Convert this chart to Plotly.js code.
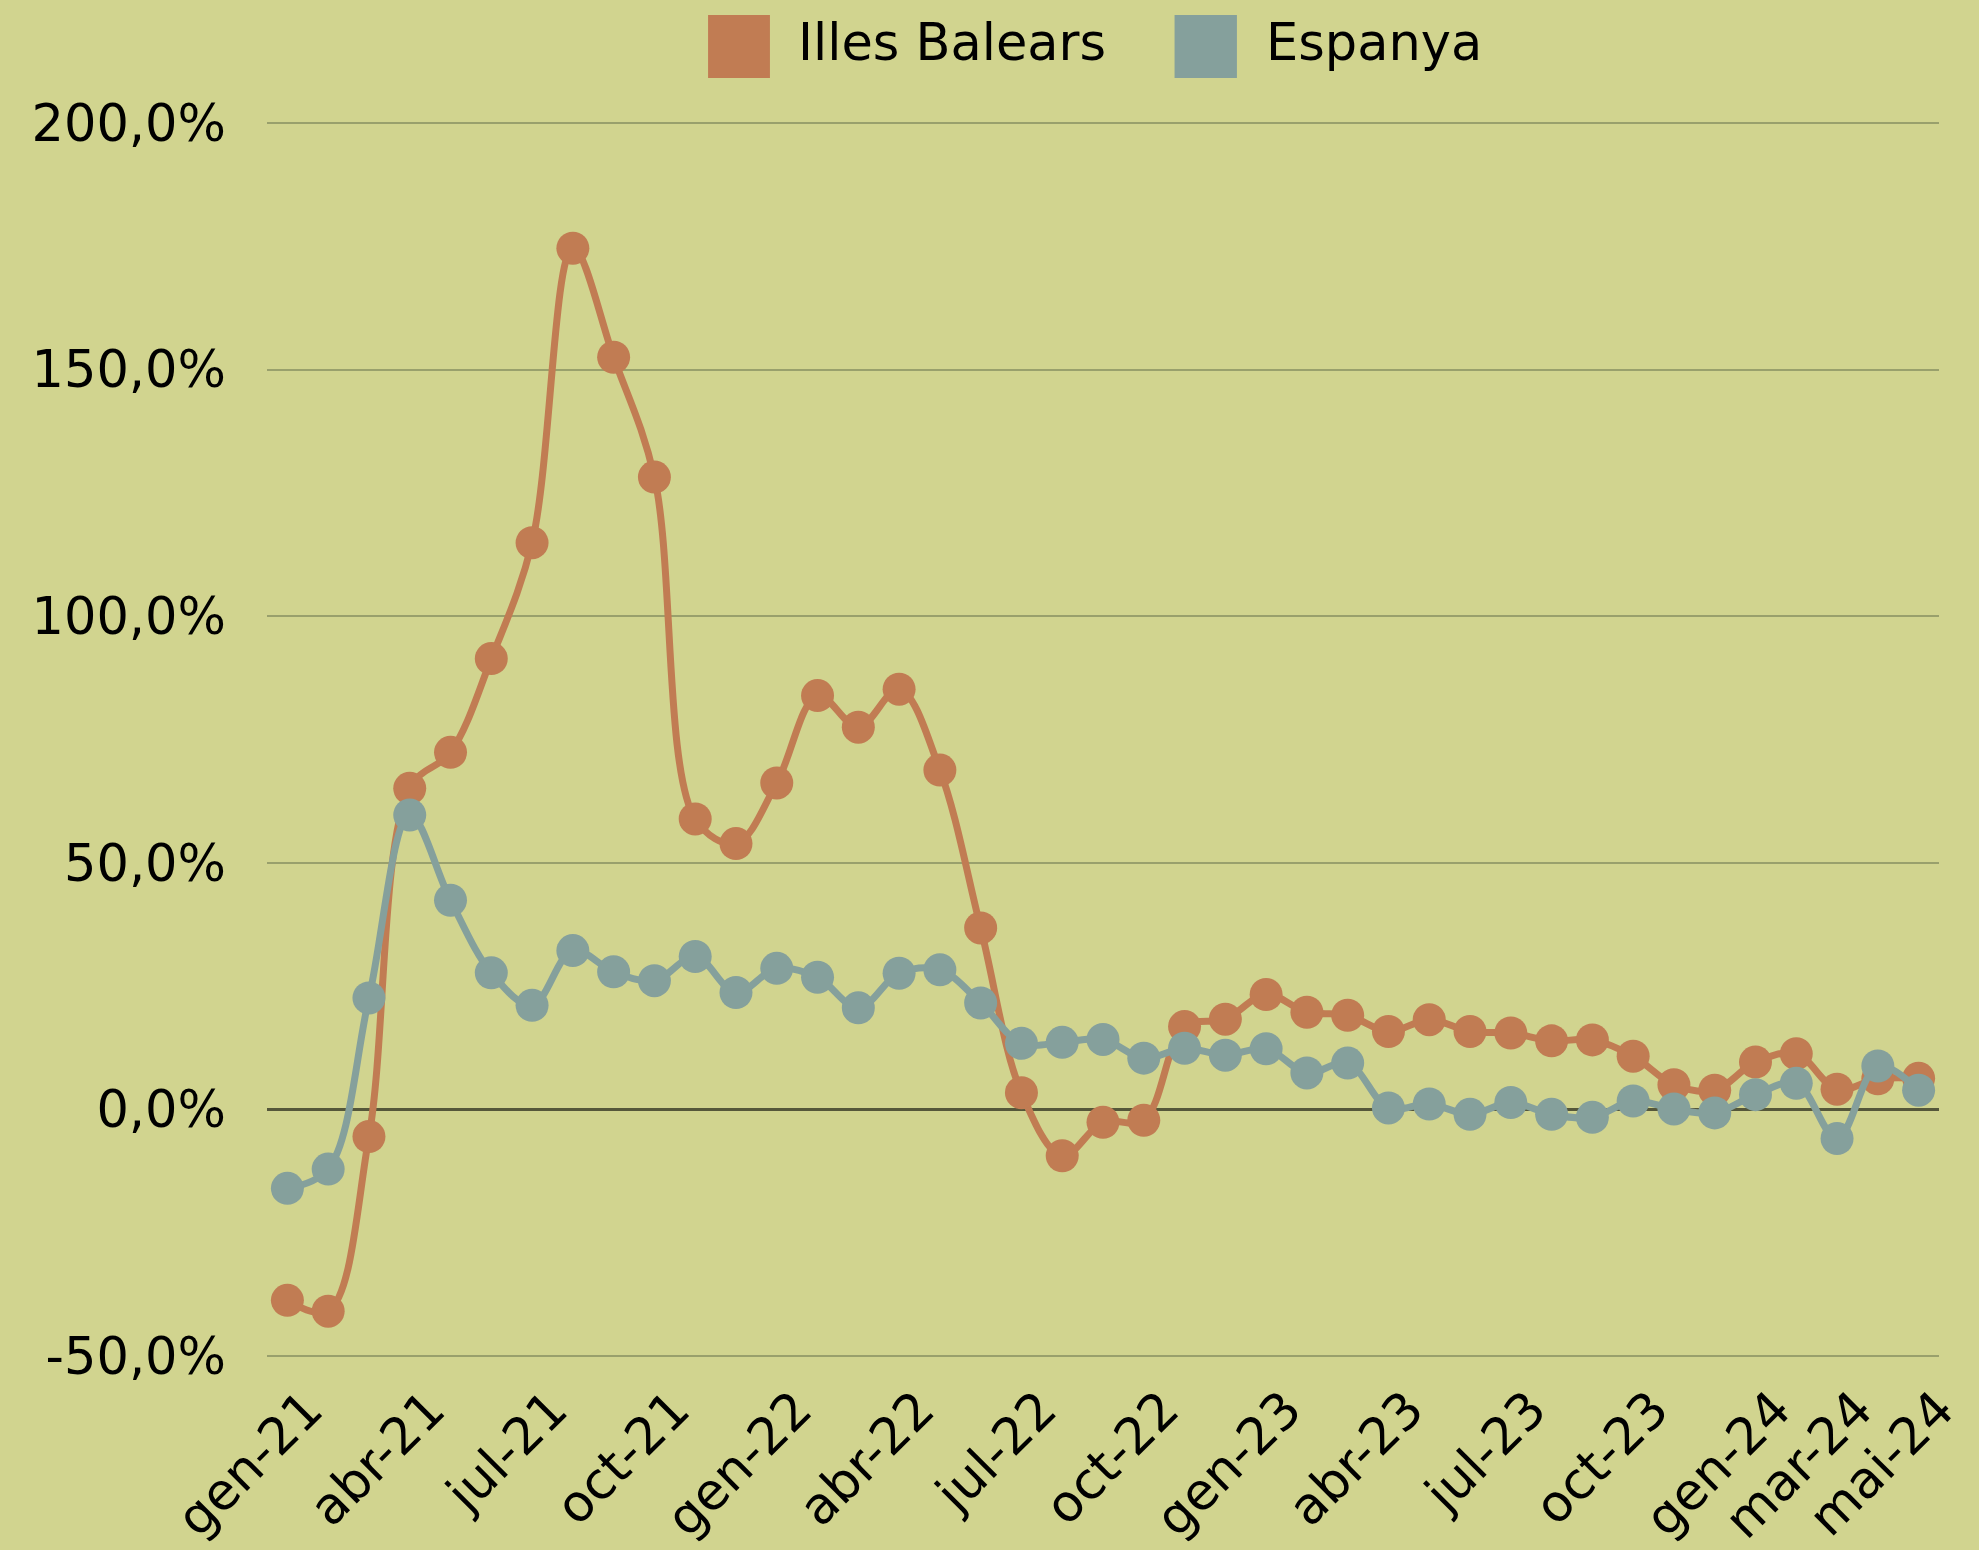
<!DOCTYPE html>
<html>
<head>
<meta charset="utf-8">
<script src="https://cdn.plot.ly/plotly-3.0.1.min.js"></script>
<style>
  html, body { margin: 0; padding: 0; background: #D1D48F; }
  #chart { width: 1979px; height: 1550px; }
</style>
</head>
<body>
<div id="chart"></div>
<script>
// ---- data ----
const months = [
  'gen-21','feb-21','mar-21','abr-21','mai-21','jun-21','jul-21','ago-21','set-21','oct-21','nov-21','des-21',
  'gen-22','feb-22','mar-22','abr-22','mai-22','jun-22','jul-22','ago-22','set-22','oct-22','nov-22','des-22',
  'gen-23','feb-23','mar-23','abr-23','mai-23','jun-23','jul-23','ago-23','set-23','oct-23','nov-23','des-23',
  'gen-24','feb-24','mar-24','abr-24','mai-24'
];
const tickLabels = ['gen-21','abr-21','jul-21','oct-21','gen-22','abr-22','jul-22','oct-22',
  'gen-23','abr-23','jul-23','oct-23','gen-24','mar-24','mai-24'];
const seriesNames = ['Illes Balears', 'Espanya'];
const illesBalears = [
  -38.7, -40.9, -5.5, 65.1, 72.4, 91.4, 114.9, 174.6, 152.5, 128.2, 58.9, 53.9,
  66.2, 83.9, 77.5, 85.2, 68.8, 36.8, 3.4, -9.4, -2.6, -2.2, 16.8, 18.3,
  23.3, 19.7, 19.1, 15.8, 18.2, 15.8, 15.5, 13.9, 14.1, 10.8, 5.0, 3.9,
  9.6, 11.3, 4.1, 6.2, 6.3
];
const espanya = [
  -16.0, -12.1, 22.6, 59.7, 42.4, 27.7, 21.1, 32.2, 27.9, 26.1, 31.0, 23.7,
  28.6, 26.8, 20.6, 27.6, 28.3, 21.6, 13.4, 13.6, 14.2, 10.4, 12.4, 11.0,
  12.3, 7.4, 9.4, 0.3, 1.1, -1.0, 1.4, -1.0, -1.6, 1.7, 0.1, -0.7,
  3.0, 5.3, -5.9, 8.8, 3.9
];
const yTicks = [-50, 0, 50, 100, 150, 200];
const yTickText = yTicks.map(v => v.toFixed(1).replace('.', ',') + '%');

// ---- style ----
const colors = ['#C17C53', '#85A09C'];
const bg = '#D1D48F';
const fontFamily = 'DejaVu Sans, Open Sans, sans-serif';

const series = [illesBalears, espanya];
const traces = series.map((vals, i) => ({
  type: 'scatter',
  mode: 'lines+markers',
  name: seriesNames[i],
  x: months,
  y: vals,
  line: { color: colors[i], width: 7, shape: 'spline', smoothing: 1 },
  marker: { color: colors[i], size: 33 },
  showlegend: false,
  hoverinfo: 'x+y+name'
}));

// manual legend: large square swatches + text
const legendSwatchX = [[0.2638, 0.3008], [0.5428, 0.5801]];
const legendTextX = [0.3165, 0.5963];
const shapes = legendSwatchX.map((sx, i) => ({
  type: 'rect', xref: 'paper', yref: 'paper',
  x0: sx[0], x1: sx[1], y0: 1.0339, y1: 1.0847,
  fillcolor: colors[i], line: { width: 0 }
}));
const annotations = seriesNames.map((n, i) => ({
  xref: 'paper', yref: 'paper', x: legendTextX[i], y: 1.0625,
  xanchor: 'left', yanchor: 'middle', showarrow: false,
  text: n, font: { family: fontFamily, size: 51, color: '#000' }
}));

const layout = {
  width: 1979, height: 1550,
  paper_bgcolor: bg, plot_bgcolor: bg,
  margin: { l: 267, r: 40, t: 120, b: 191, pad: 0 },
  font: { family: fontFamily, size: 51, color: '#000' },
  showlegend: false,
  xaxis: {
    type: 'category',
    range: [-0.5, months.length - 0.5],
    tickmode: 'array',
    tickvals: tickLabels,
    ticktext: tickLabels,
    tickangle: -45,
    ticks: '',
    ticklabelshift: 20,
    ticklabelstandoff: 9,
    showgrid: false,
    showline: false,
    zeroline: false,
    tickfont: { family: fontFamily, size: 51, color: '#000' }
  },
  yaxis: {
    range: [-50.6, 200.6],
    tickmode: 'array',
    tickvals: yTicks,
    ticktext: yTickText,
    ticks: '',
    ticklabelstandoff: 40,
    showgrid: true,
    gridcolor: '#99A06C',
    gridwidth: 2,
    zeroline: true,
    zerolinecolor: '#55573A',
    zerolinewidth: 2.5,
    showline: false,
    tickfont: { family: fontFamily, size: 51, color: '#000' }
  },
  shapes: shapes,
  annotations: annotations
};

Plotly.newPlot('chart', traces, layout, { displayModeBar: false, staticPlot: true });
</script>
</body>
</html>
